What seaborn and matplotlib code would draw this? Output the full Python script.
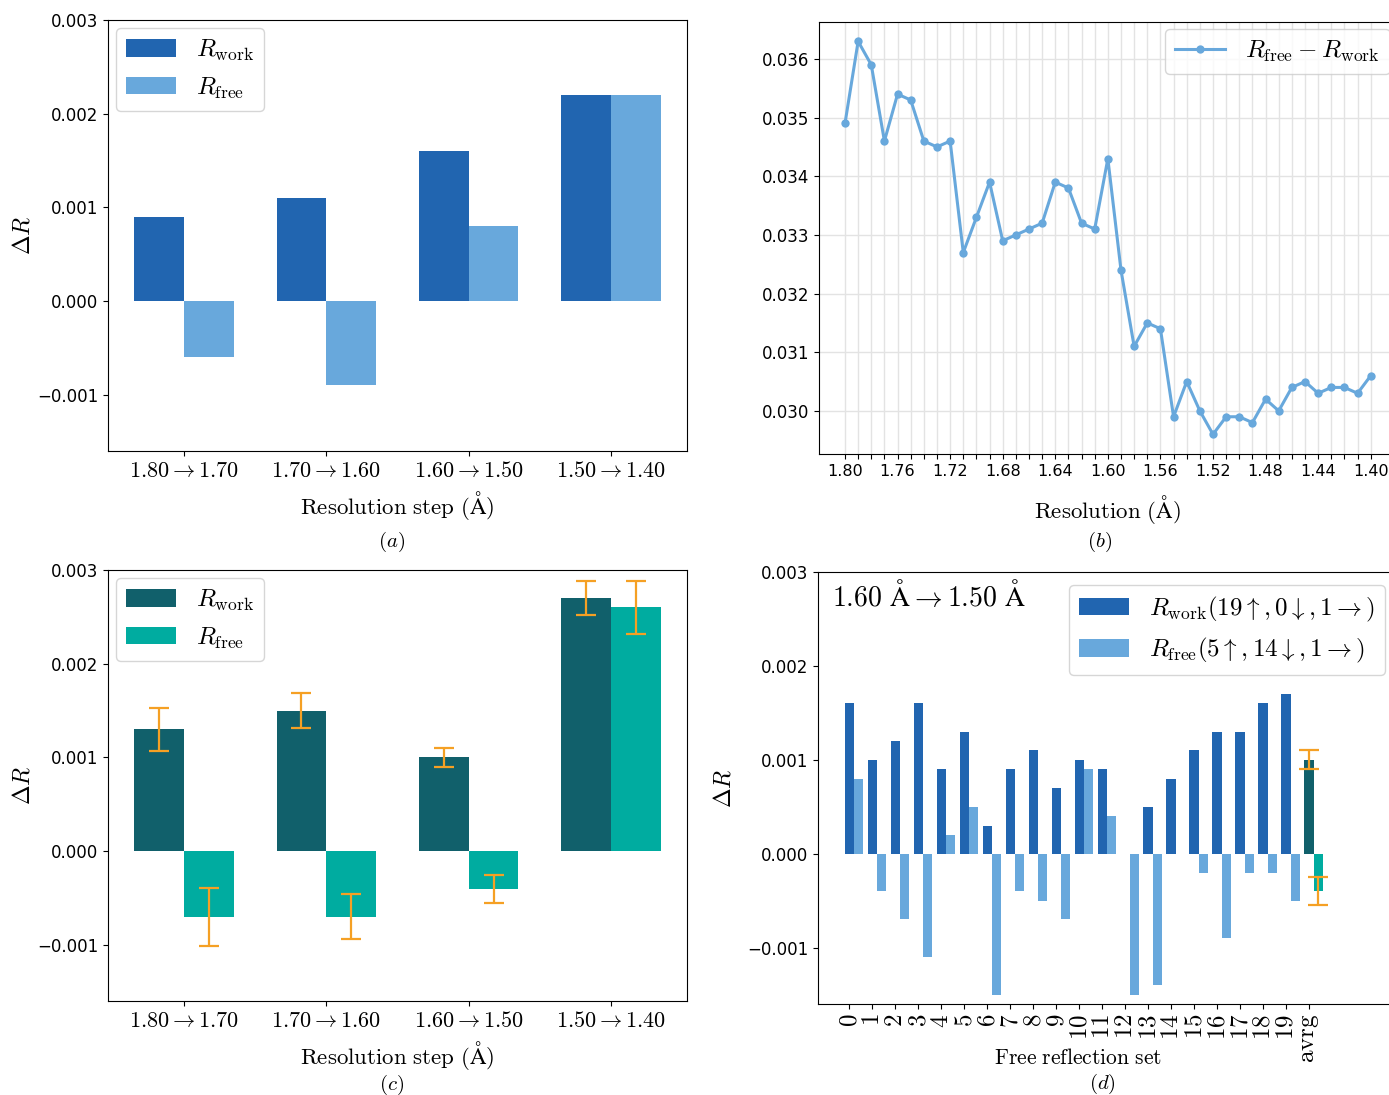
import numpy as np
import pandas as pd
import matplotlib
matplotlib.use("Agg")
import matplotlib.pyplot as plt
import seaborn as sns

plt.rcParams["mathtext.fontset"] = "cm"
plt.rcParams["font.family"] = ["DejaVu Sans"]

# ---------------------------------------------------------------- data
step_labels = [r"$1.80 \rightarrow 1.70$", r"$1.70 \rightarrow 1.60$",
               r"$1.60 \rightarrow 1.50$", r"$1.50 \rightarrow 1.40$"]

# (a) change in R per resolution step
a_work = [0.0009, 0.0011, 0.0016, 0.0022]
a_free = [-0.0006, -0.0009, 0.0008, 0.0022]

# (b) Rfree - Rwork gap versus resolution
b_res = [1.80, 1.79, 1.78, 1.77, 1.76, 1.75, 1.74, 1.73, 1.72, 1.71,
         1.70, 1.69, 1.68, 1.67, 1.66, 1.65, 1.64, 1.63, 1.62, 1.61,
         1.60, 1.59, 1.58, 1.57, 1.56, 1.55, 1.54, 1.53, 1.52, 1.51,
         1.50, 1.49, 1.48, 1.47, 1.46, 1.45, 1.44, 1.43, 1.42, 1.41, 1.40]
b_gap = [0.0349, 0.0363, 0.0359, 0.0346, 0.0354, 0.0353, 0.0346, 0.0345, 0.0346, 0.0327,
         0.0333, 0.0339, 0.0329, 0.0330, 0.0331, 0.0332, 0.0339, 0.0338, 0.0332, 0.0331,
         0.0343, 0.0324, 0.0311, 0.0315, 0.0314, 0.0299, 0.0305, 0.0300, 0.0296, 0.0299,
         0.0299, 0.0298, 0.0302, 0.0300, 0.0304, 0.0305, 0.0303, 0.0304, 0.0304, 0.0303, 0.0306]
b_ticks = [1.80, 1.76, 1.72, 1.68, 1.64, 1.60, 1.56, 1.52, 1.48, 1.44, 1.40]

# (c) averaged change with spread
c_work = [0.0013, 0.0015, 0.0010, 0.0027]
c_work_err = [0.00023, 0.00019, 0.00010, 0.00018]
c_free = [-0.0007, -0.0007, -0.0004, 0.0026]
c_free_err = [0.00031, 0.00024, 0.00015, 0.00028]

# (d) individual free reflection sets, 1.60 -> 1.50
d_sets = [str(i) for i in range(20)]
d_work = [0.0016, 0.0010, 0.0012, 0.0016, 0.0009, 0.0013, 0.0003, 0.0009, 0.0011, 0.0007,
          0.0010, 0.0009, 0.0000, 0.0005, 0.0008, 0.0011, 0.0013, 0.0013, 0.0016, 0.0017]
d_free = [0.0008, -0.0004, -0.0007, -0.0011, 0.0002, 0.0005, -0.0015, -0.0004, -0.0005, -0.0007,
          0.0009, 0.0004, -0.0015, -0.0014, 0.0000, -0.0002, -0.0009, -0.0002, -0.0002, -0.0005]
d_avg_work, d_avg_work_err = 0.0010, 0.0001
d_avg_free, d_avg_free_err = -0.0004, 0.00015

# ---------------------------------------------------------------- style
BLUE_D, BLUE_L = "#2165b0", "#68a8dc"
TEAL_D, TEAL_L = "#11606b", "#00aca0"
ORANGE = "#f5a024"
W, H = 1389, 1095

fig = plt.figure(figsize=(W / 100, H / 100), dpi=100)


def px_axes(left, top, right, bottom):
    return fig.add_axes([left / W, 1 - bottom / H, (right - left) / W, (bottom - top) / H])


ax_a = px_axes(108, 20, 687, 451)
ax_b = px_axes(818.7, 21.7, 1397, 454)
ax_c = px_axes(108, 570, 687, 1001)
ax_d = px_axes(818, 572, 1397, 1004)

DR_LIM = (-0.0016, 0.003)
DR_TICKS = [-0.001, 0.0, 0.001, 0.002, 0.003]


def step_panel(ax, work, free, colors, work_err=None, free_err=None):
    df = pd.DataFrame({
        "step": step_labels * 2,
        "dR": list(work) + list(free),
        "series": ["work"] * len(work) + ["free"] * len(free),
    })
    sns.barplot(data=df, x="step", y="dR", hue="series", hue_order=["work", "free"],
                palette=colors, width=0.7, gap=0, saturation=1, linewidth=0,
                errorbar=None, ax=ax)
    if work_err is not None:
        for cont, vals, errs in zip(ax.containers[:2], (work, free), (work_err, free_err)):
            xs = [p.get_x() + p.get_width() / 2 for p in cont.patches]
            ax.errorbar(xs, vals, yerr=errs, fmt="none", ecolor=ORANGE,
                        elinewidth=1.6, capsize=7, capthick=1.6, zorder=5)
    ax.set_xlim(-0.535, 3.535)
    ax.set_ylim(*DR_LIM)
    ax.set_yticks(DR_TICKS)
    ax.tick_params(axis="x", labelsize=16)
    ax.tick_params(axis="y", labelsize=12)
    ax.set_xlabel(r"$\mathrm{Resolution\ step\ (\AA)}$", fontsize=16.5)
    ax.xaxis.set_label_coords(0.5, -0.088)
    ax.xaxis.label.set_va("top")
    ax.set_ylabel(r"$\Delta R$", fontsize=17, labelpad=2)
    ax.legend(handles=ax.containers[:2],
              labels=[r"$R_\mathrm{work}$", r"$R_\mathrm{free}$"],
              loc="upper left", fontsize=18, borderaxespad=0.3)


step_panel(ax_a, a_work, a_free, [BLUE_D, BLUE_L])
step_panel(ax_c, c_work, c_free, [TEAL_D, TEAL_L], c_work_err, c_free_err)

# ---------------------------------------------------------------- (b)
sns.lineplot(x=b_res, y=b_gap, color=BLUE_L, lw=2.2, marker="o", markersize=6,
             markeredgewidth=0, label=r"$R_\mathrm{free} - R_\mathrm{work}$", ax=ax_b)
ax_b.set_xlim(1.82, 1.38)
ax_b.set_xticks(b_res)
ax_b.set_xticklabels([f"{r:.2f}" if any(abs(r - t) < 1e-9 for t in b_ticks) else ""
                      for r in b_res])
ax_b.tick_params(axis="x", labelsize=11.5)
ax_b.tick_params(axis="y", labelsize=12)
ax_b.grid(True, color="#e3e3e3", lw=1)
ax_b.set_axisbelow(True)
ax_b.set_xlabel(r"$\mathrm{Resolution\ (\AA)}$", fontsize=16.5)
ax_b.xaxis.set_label_coords(0.5, -0.09)
ax_b.xaxis.label.set_va("top")
ax_b.legend(loc="upper right", fontsize=18, borderaxespad=0.3)

# ---------------------------------------------------------------- (d)
n = len(d_sets)
pos_work = list(range(n)) + [n]
pos_free = [p + 0.4 for p in pos_work]
df_d = pd.DataFrame({
    "pos": pos_work + pos_free,
    "dR": d_work + [d_avg_work] + d_free + [d_avg_free],
    "kind": ["work"] * n + ["work_avg"] + ["free"] * n + ["free_avg"],
})
sns.barplot(data=df_d, x="pos", y="dR", hue="kind",
            hue_order=["work", "free", "work_avg", "free_avg"],
            palette={"work": BLUE_D, "free": BLUE_L, "work_avg": TEAL_D, "free_avg": TEAL_L},
            native_scale=True, dodge=False, width=1.0, saturation=1, linewidth=0,
            errorbar=None, orient="x", legend=False, ax=ax_d)
ax_d.errorbar([pos_work[-1], pos_free[-1]], [d_avg_work, d_avg_free],
              yerr=[d_avg_work_err, d_avg_free_err], fmt="none", ecolor=ORANGE,
              elinewidth=1.6, capsize=7, capthick=1.6, zorder=5)
ax_d.set_xlim(-1.36, 23.83)
ax_d.set_ylim(*DR_LIM)
ax_d.set_yticks(DR_TICKS)
ax_d.set_xticks(pos_work)
ax_d.set_xticklabels([rf"$\mathrm{{{s}}}$" for s in d_sets + ["avrg"]], rotation=90)
ax_d.tick_params(axis="x", labelsize=18)
ax_d.tick_params(axis="y", labelsize=12)
ax_d.set_xlabel(r"$\mathrm{Free\ reflection\ set}$", fontsize=15.5)
ax_d.xaxis.set_label_coords(0.449, -0.102)
ax_d.xaxis.label.set_va("top")
ax_d.set_ylabel(r"$\Delta R$", fontsize=17, labelpad=8)


def counts(vals):
    v = np.asarray(vals)
    return int((v > 0).sum()), int((v < 0).sum()), int((v == 0).sum())


uw, dw, fw = counts(d_work)
uf, df_, ff = counts(d_free)
ax_d.legend(handles=ax_d.containers[:2],
            labels=[rf"$R_\mathrm{{work}}({uw}\uparrow,{dw}\downarrow,{fw}\rightarrow)$",
                    rf"$R_\mathrm{{free}}({uf}\uparrow,{df_}\downarrow,{ff}\rightarrow)$"],
            loc="upper right", fontsize=18)
ax_d.text(0.024, 0.982, r"$1.60\ \mathrm{\AA} \rightarrow 1.50\ \mathrm{\AA}$",
          transform=ax_d.transAxes, ha="left", va="top", fontsize=20)

# ---------------------------------------------------------------- captions
for label, x, y in [("a", 392, 542), ("b", 1100, 542), ("c", 392, 1085), ("d", 1102, 1084)]:
    fig.text(x / W, 1 - y / H, rf"$({label})$", ha="center", va="center", fontsize=15)

fig.savefig("out.png", dpi=100)
